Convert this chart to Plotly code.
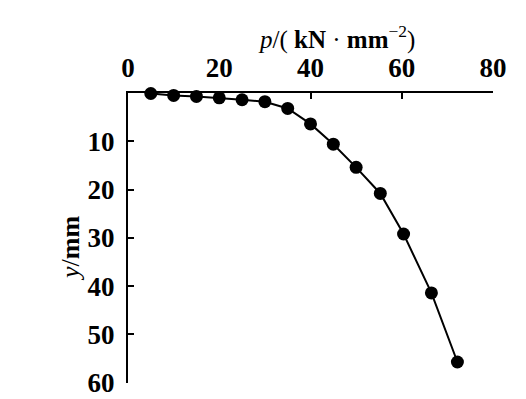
import plotly.graph_objects as go

p_values = [5, 10, 15, 20, 25, 30, 35, 40, 45, 50, 55.3, 60.4, 66.5, 72.2]
y_values = [0.1, 0.5, 0.7, 1.0, 1.4, 1.8, 3.2, 6.4, 10.6, 15.4, 20.8, 29.2, 41.4, 55.7]
x_ticks = [0, 20, 40, 60, 80]
y_ticks = [10, 20, 30, 40, 50, 60]

font_family = "Liberation Serif"

fig = go.Figure()
fig.add_trace(go.Scatter(
    x=p_values, y=y_values, mode="lines+markers",
    line=dict(color="black", width=2),
    marker=dict(color="black", size=13),
    showlegend=False, cliponaxis=False,
))

fig.update_layout(
    width=526, height=399,
    margin=dict(l=120, r=41, t=85, b=24),
    paper_bgcolor="white", plot_bgcolor="white",
    font=dict(family=font_family, color="black"),
    xaxis=dict(
        side="top", range=[0, 80], tickvals=x_ticks,
        showline=True, linecolor="black", linewidth=2,
        ticks="inside", ticklen=6, tickwidth=2, tickcolor="black",
        showgrid=False, zeroline=False, automargin=False,
        ticklabelstandoff=3,
        tickfont=dict(family=font_family, size=27, weight="bold"),
    ),
    yaxis=dict(
        range=[60.05, 0], tickvals=y_ticks,
        showline=True, linecolor="black", linewidth=2,
        ticks="inside", ticklen=6, tickwidth=2, tickcolor="black",
        showgrid=False, zeroline=False, automargin=False,
        ticklabelstandoff=6,
        tickfont=dict(family=font_family, size=27, weight="bold"),
    ),
    annotations=[
        dict(text="<i>p</i>/( <b>kN</b> · <b>mm</b><sup>−2</sup>)",
             xref="paper", yref="paper", x=0.57, y=1.0, yshift=56,
             xanchor="center", yanchor="middle", showarrow=False,
             font=dict(family=font_family, size=25)),
        dict(text="<i>y</i>/<b>mm</b>", textangle=-90,
             xref="paper", yref="paper", x=0, xshift=-58, y=0.5, yshift=-11,
             xanchor="center", yanchor="middle", showarrow=False,
             font=dict(family=font_family, size=26)),
    ],
)

fig.write_html("out.html")
